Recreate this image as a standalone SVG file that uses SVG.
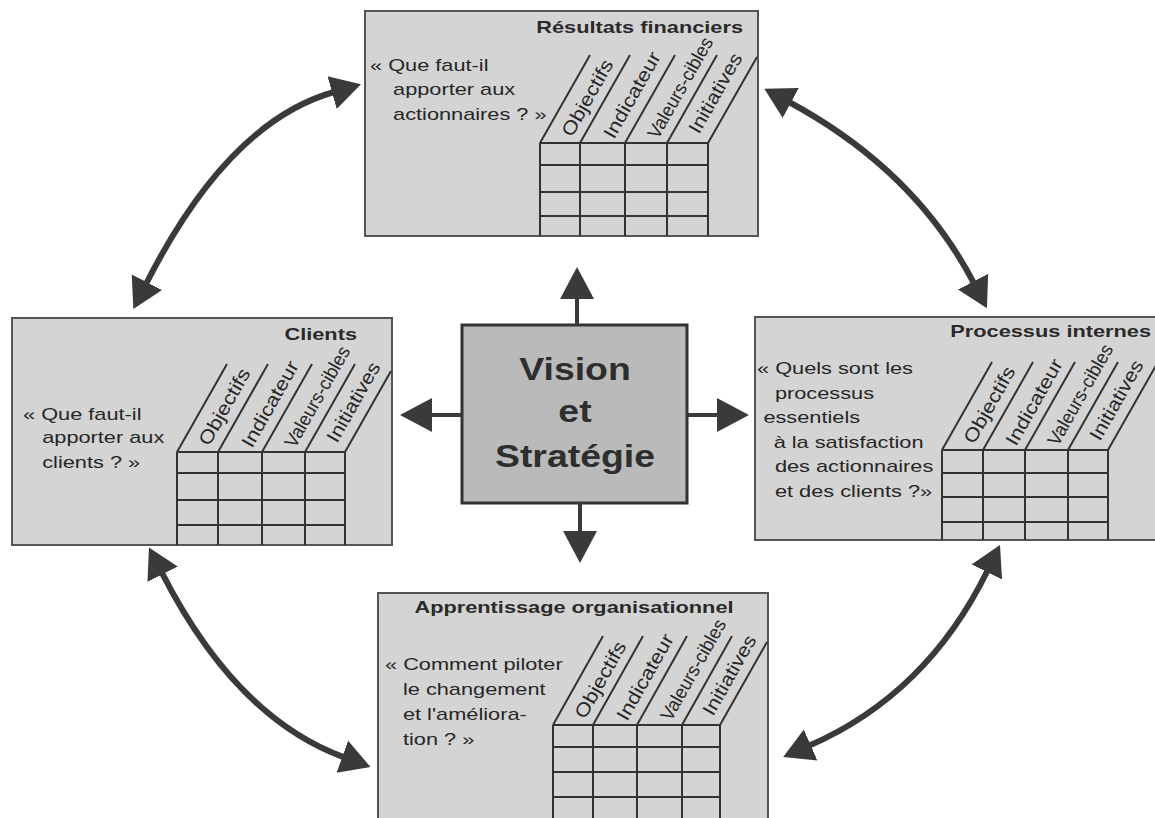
<svg xmlns="http://www.w3.org/2000/svg" width="1155" height="818" viewBox="0 0 1155 818">
<style>
.panel{fill:#d4d4d4;stroke:#555;stroke-width:2}
.center{fill:#bababa;stroke:#333;stroke-width:3}
.grid{stroke:#333;stroke-width:2;fill:none}
.q{font-family:"Liberation Sans",Arial,sans-serif;font-size:17px;fill:#262626}
.t{font-family:"Liberation Sans",Arial,sans-serif;font-size:17px;font-weight:bold;fill:#2a2a2a}
.lbl{font-family:"Liberation Sans",Arial,sans-serif;font-size:19px;fill:#262626}
.big{font-family:"Liberation Sans",Arial,sans-serif;font-size:32px;font-weight:bold;fill:#2e2e2e;text-anchor:middle}
.conn{stroke:#3a3a3a;stroke-width:6;fill:none}
.short{stroke:#3a3a3a;stroke-width:4;fill:none}
</style>
<defs>
<marker id="ah" viewBox="-2 -18 32 36" markerWidth="32" markerHeight="36" refX="0" refY="0" orient="auto-start-reverse" markerUnits="userSpaceOnUse"><path d="M-2,-17 L28,0 L-2,17 Z" fill="#3a3a3a"/></marker>
<marker id="sh" viewBox="-2 -18 34 36" markerWidth="34" markerHeight="36" refX="0" refY="0" orient="auto" markerUnits="userSpaceOnUse"><path d="M-2,-17 L30,0 L-2,17 Z" fill="#3a3a3a"/></marker>
</defs>
<rect width="1155" height="818" fill="#fff"/>

<g id="resultats">
<rect class="panel" x="365" y="11" width="393" height="225"/>
<text class="t" text-anchor="end" transform="translate(743,33) scale(1.28,1)">Résultats financiers</text>
<text class="q" transform="translate(370,71) scale(1.28,1)"><tspan x="0" y="0">« Que faut-il</tspan><tspan x="18" y="24.5">apporter aux</tspan><tspan x="18" y="49">actionnaires ? »</tspan></text>
<path class="grid" d="M540,143V236M580,143V236M625,143V236M667,143V236M708,143V236M540,143H708M540,165H708M540,192H708M540,216H708M540,143L590,55M580,143L630,55M625,143L675,55M667,143L717,55M708,143L757,57"/>
<text class="lbl" transform="translate(572,138) rotate(-60.4)" textLength="85" lengthAdjust="spacingAndGlyphs">Objectifs</text>
<text class="lbl" transform="translate(614,140) rotate(-60.4)" textLength="96" lengthAdjust="spacingAndGlyphs">Indicateur</text>
<text class="lbl" transform="translate(658,140) rotate(-60.4)" textLength="113" lengthAdjust="spacingAndGlyphs">Valeurs-cibles</text>
<text class="lbl" transform="translate(699,135) rotate(-60.4)" textLength="89" lengthAdjust="spacingAndGlyphs">Initiatives</text>
</g>

<g id="clients">
<rect class="panel" x="12" y="318" width="380" height="227"/>
<text class="t" text-anchor="end" transform="translate(357,340) scale(1.28,1)">Clients</text>
<text class="q" transform="translate(23,420) scale(1.28,1)"><tspan x="0" y="0">« Que faut-il</tspan><tspan x="15" y="23.5">apporter aux</tspan><tspan x="15" y="48">clients ? »</tspan></text>
<path class="grid" d="M177,452V545M218,452V545M262,452V545M305,452V545M345,452V545M177,452H345M177,473H345M177,500H345M177,525H345M177,452L227,364M218,452L268,364M262,452L312,364M305,452L355,364M345,452L391,371"/>
<text class="lbl" transform="translate(209,447) rotate(-60.4)" textLength="85" lengthAdjust="spacingAndGlyphs">Objectifs</text>
<text class="lbl" transform="translate(252,449) rotate(-60.4)" textLength="96" lengthAdjust="spacingAndGlyphs">Indicateur</text>
<text class="lbl" transform="translate(295,449) rotate(-60.4)" textLength="113" lengthAdjust="spacingAndGlyphs">Valeurs-cibles</text>
<text class="lbl" transform="translate(337,444) rotate(-60.4)" textLength="89" lengthAdjust="spacingAndGlyphs">Initiatives</text>
</g>

<g id="processus">
<rect class="panel" x="755" y="317" width="405" height="223"/>
<text class="t" text-anchor="end" transform="translate(1151,337) scale(1.28,1)">Processus internes</text>
<text class="q" transform="translate(757,374) scale(1.28,1)"><tspan x="0" y="0">« Quels sont les</tspan><tspan x="14" y="24.6">processus</tspan><tspan x="5" y="49.2">essentiels</tspan><tspan x="13" y="73.8">à la satisfaction</tspan><tspan x="14" y="98.4">des actionnaires</tspan><tspan x="14" y="123">et des clients ?»</tspan></text>
<path class="grid" d="M942,450V540M983,450V540M1025,450V540M1068,450V540M1108,450V540M942,450H1108M942,473H1108M942,497H1108M942,522H1108M942,450L992,362M983,450L1033,362M1025,450L1075,362M1068,450L1118,362M1108,450L1158,362"/>
<text class="lbl" transform="translate(974,445) rotate(-60.4)" textLength="85" lengthAdjust="spacingAndGlyphs">Objectifs</text>
<text class="lbl" transform="translate(1016,447) rotate(-60.4)" textLength="96" lengthAdjust="spacingAndGlyphs">Indicateur</text>
<text class="lbl" transform="translate(1058,447) rotate(-60.4)" textLength="113" lengthAdjust="spacingAndGlyphs">Valeurs-cibles</text>
<text class="lbl" transform="translate(1100,442) rotate(-60.4)" textLength="89" lengthAdjust="spacingAndGlyphs">Initiatives</text>
</g>

<g id="apprentissage">
<rect class="panel" x="378" y="593" width="390" height="240"/>
<text class="t" text-anchor="middle" transform="translate(574,613) scale(1.28,1)">Apprentissage organisationnel</text>
<text class="q" transform="translate(385,670) scale(1.28,1)"><tspan x="0" y="0">« Comment piloter</tspan><tspan x="14" y="25">le changement</tspan><tspan x="14" y="50">et l'améliora-</tspan><tspan x="14" y="75">tion ? »</tspan></text>
<path class="grid" d="M553,725V818M593,725V818M637,725V818M682,725V818M720,725V818M553,725H720M553,747H720M553,772H720M553,797H720M553,725L603,636M593,725L643,636M637,725L687,636M682,725L732,636M720,725L767,642"/>
<text class="lbl" transform="translate(585,720) rotate(-60.4)" textLength="85" lengthAdjust="spacingAndGlyphs">Objectifs</text>
<text class="lbl" transform="translate(627,722) rotate(-60.4)" textLength="96" lengthAdjust="spacingAndGlyphs">Indicateur</text>
<text class="lbl" transform="translate(671,722) rotate(-60.4)" textLength="113" lengthAdjust="spacingAndGlyphs">Valeurs-cibles</text>
<text class="lbl" transform="translate(713,717) rotate(-60.4)" textLength="89" lengthAdjust="spacingAndGlyphs">Initiatives</text>
</g>

<g id="vision">
<rect class="center" x="462" y="325" width="225" height="178"/>
<text class="big" transform="translate(575,380) scale(1.17,1)">Vision</text>
<text class="big" transform="translate(575,422) scale(1.17,1)">et</text>
<text class="big" transform="translate(575,467) scale(1.17,1)">Stratégie</text>
</g>

<g id="connectors">
<path class="conn" d="M146,284 Q228,122 334,92" marker-start="url(#ah)" marker-end="url(#ah)"/>
<path class="conn" d="M789,102 Q915,170 974,283.4" marker-start="url(#ah)" marker-end="url(#ah)"/>
<path class="conn" d="M161.7,572.4 Q236,718 344.2,757.4" marker-start="url(#ah)" marker-end="url(#ah)"/>
<path class="conn" d="M987.7,570.2 Q927,694.4 808.8,745.8" marker-start="url(#ah)" marker-end="url(#ah)"/>
<path class="short" d="M577,325 L577,297" marker-end="url(#sh)"/>
<path class="short" d="M580,503 L580,533" marker-end="url(#sh)"/>
<path class="short" d="M462,415 L430,415" marker-end="url(#sh)"/>
<path class="short" d="M687,415 L719,415" marker-end="url(#sh)"/>
</g>
</svg>
